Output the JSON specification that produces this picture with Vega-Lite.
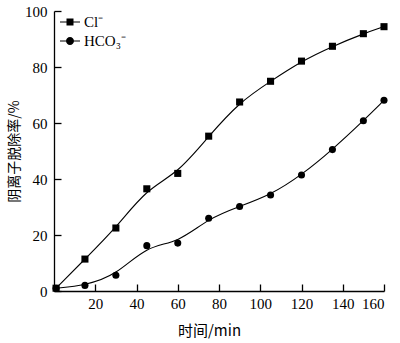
{
  "$schema": "https://vega.github.io/schema/vega-lite/v6.json",
  "width": 330,
  "height": 280,
  "autosize": "none",
  "padding": {"left": 54, "top": 11, "right": 16, "bottom": 52},
  "background": "white",
  "config": {
    "view": {"stroke": null},
    "font": "Liberation Serif",
    "axis": {
      "grid": false,
      "domainColor": "black",
      "domainWidth": 1.3,
      "tickColor": "black",
      "tickWidth": 1.3,
      "labelColor": "black",
      "titleColor": "black",
      "labelFont": "Liberation Serif",
      "labelFontSize": 15,
      "titleFontSize": 15,
      "titleFontWeight": "normal"
    },
    "legend": {"labelFont": "Liberation Serif", "labelFontSize": 15, "labelColor": "black"}
  },
  "data": {
    "values": [
      {"ion": "Cl⁻", "t": 1, "r": 1},
      {"ion": "Cl⁻", "t": 15, "r": 11.4},
      {"ion": "Cl⁻", "t": 30, "r": 22.5},
      {"ion": "Cl⁻", "t": 45, "r": 36.5},
      {"ion": "Cl⁻", "t": 60, "r": 42},
      {"ion": "Cl⁻", "t": 75, "r": 55.3},
      {"ion": "Cl⁻", "t": 90, "r": 67.5},
      {"ion": "Cl⁻", "t": 105, "r": 74.9},
      {"ion": "Cl⁻", "t": 120, "r": 82.1},
      {"ion": "Cl⁻", "t": 135, "r": 87.4},
      {"ion": "Cl⁻", "t": 150, "r": 91.9},
      {"ion": "Cl⁻", "t": 160, "r": 94.4},
      {"ion": "HCO₃⁻", "t": 1, "r": 1},
      {"ion": "HCO₃⁻", "t": 15, "r": 2},
      {"ion": "HCO₃⁻", "t": 30, "r": 5.6},
      {"ion": "HCO₃⁻", "t": 45, "r": 16.2},
      {"ion": "HCO₃⁻", "t": 60, "r": 17.1},
      {"ion": "HCO₃⁻", "t": 75, "r": 26},
      {"ion": "HCO₃⁻", "t": 90, "r": 30.2},
      {"ion": "HCO₃⁻", "t": 105, "r": 34.3},
      {"ion": "HCO₃⁻", "t": 120, "r": 41.4},
      {"ion": "HCO₃⁻", "t": 135, "r": 50.5},
      {"ion": "HCO₃⁻", "t": 150, "r": 60.8},
      {"ion": "HCO₃⁻", "t": 160, "r": 68.1}
    ]
  },
  "encoding": {
    "x": {
      "field": "t",
      "type": "quantitative",
      "scale": {"domain": [0, 160], "nice": false},
      "axis": {
        "values": [20, 40, 60, 80, 100, 120, 140, 160],
        "tickSize": -7,
        "labelPadding": 12,
        "title": "时间/min",
        "titleFont": "Noto Sans CJK SC",
        "titlePadding": 12,
        "titleX": 155
      }
    },
    "y": {
      "field": "r",
      "type": "quantitative",
      "scale": {"domain": [0, 100], "nice": false},
      "axis": {
        "values": [0, 20, 40, 60, 80, 100],
        "tickSize": -7,
        "labelPadding": 14,
        "title": "阴离子脱除率/%",
        "titleFont": "Noto Sans CJK SC",
        "titleFontSize": 14,
        "titlePadding": 3
      }
    }
  },
  "layer": [
    {
      "mark": {"type": "line", "interpolate": "basis", "color": "black", "strokeWidth": 1.1},
      "encoding": {"detail": {"field": "ion"}}
    },
    {
      "mark": {"type": "point", "filled": true, "color": "black", "opacity": 1, "size": 50},
      "encoding": {
        "shape": {
          "field": "ion",
          "type": "nominal",
          "scale": {"domain": ["Cl⁻", "HCO₃⁻"], "range": ["square", "circle"]},
          "legend": null
        }
      }
    },
    {
      "transform": [{"filter": "false"}],
      "mark": {"type": "point", "filled": true, "color": "black", "opacity": 1},
      "encoding": {
        "shape": {
          "field": "ion",
          "type": "nominal",
          "scale": {
            "domain": ["Cl⁻", "HCO₃⁻"],
            "range": [
              "M-1,-0.055H1V0.055H-1ZM-0.35,-0.35H0.35V0.35H-0.35Z",
              "M-1,-0.055H1V0.055H-1ZM0.4,0A0.4,0.4,0,1,1,-0.4,0A0.4,0.4,0,1,1,0.4,0Z"
            ]
          },
          "legend": {
            "title": null,
            "orient": "none",
            "legendX": 5,
            "legendY": 0,
            "rowPadding": 0,
            "labelOffset": 3,
            "symbolSize": 400,
            "symbolFillColor": "black",
            "symbolOpacity": 1
          }
        }
      }
    }
  ],
  "resolve": {"scale": {"shape": "independent"}}
}
